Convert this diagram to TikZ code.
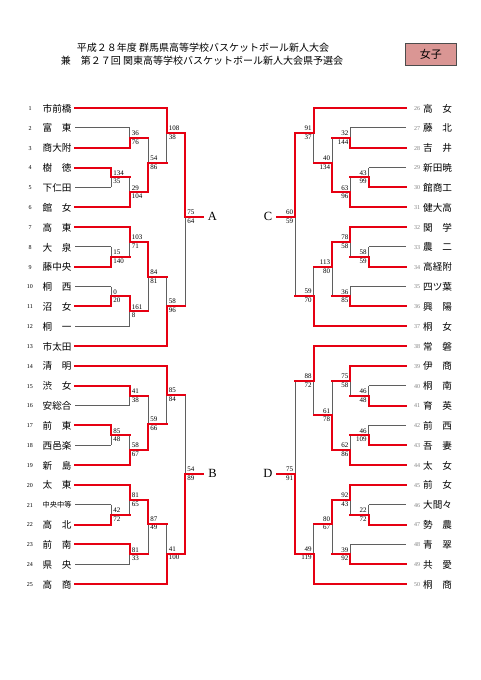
\documentclass[tikz,border=0pt]{standalone}
\usepackage{fontspec}
\setmainfont{Liberation Serif}
\newfontfamily\jp{Noto Sans CJK JP}
\pgfdeclarelayer{bg}
\pgfdeclarelayer{paper}
\pgfsetlayers{paper,bg,main}
\definecolor{bred}{RGB}{230,0,18}
\definecolor{bgray}{RGB}{95,95,95}
\definecolor{boxpink}{RGB}{218,150,148}
\tikzset{
  rl/.style={draw=bred,line width=2pt,line cap=rect},
  gl/.style={draw=bgray,line width=0.9pt},
  sc/.style={font=\fontsize{7}{7}\selectfont,inner xsep=0.3pt,inner ysep=0pt,text height=5pt,text depth=0pt},
  num/.style={font=\fontsize{6}{6}\selectfont,inner sep=0pt},
  nm/.style={font=\jp\fontsize{9.6}{10}\selectfont,inner sep=0pt,anchor=west},
  lab/.style={font=\fontsize{12.5}{12.5}\selectfont,inner sep=0pt},
  ttl/.style={font=\jp\fontsize{10}{11}\selectfont,inner sep=0pt}
}
\newcommand{\BrH}[3]{\draw[rl] (#1,#3) -- (#2,#3);}
\newcommand{\BgH}[3]{\begin{pgfonlayer}{bg}\draw[gl] (#1,#3) -- (#2,#3);\end{pgfonlayer}}
\newcommand{\BvT}[4]{\begin{pgfonlayer}{bg}\draw[gl] (#1,#4) -- (#1,#3);\end{pgfonlayer}\draw[rl] (#1,#2) -- (#1,#4);}
\newcommand{\BvB}[4]{\begin{pgfonlayer}{bg}\draw[gl] (#1,#2) -- (#1,#4);\end{pgfonlayer}\draw[rl] (#1,#4) -- (#1,#3);}
\newcommand{\ScL}[4]{\node[sc,anchor=south west] at (#1+1.8,#2-2) {#3};\node[sc,anchor=north west] at (#1+1.8,#2+1.2) {#4};}
\newcommand{\ScR}[4]{\node[sc,anchor=south east] at (#1-1.5,#2-2) {#3};\node[sc,anchor=north east] at (#1-1.5,#2+1.2) {#4};}
\newcommand{\Two}[2]{\makebox[3em]{#1\hfill#2}}
\newcommand{\TmL}[3]{\node[num] (n#1) at (30,#2+0.5) {#1};\node[nm] (t#1) at (42.5,#2+0.5) {#3};}
\newcommand{\TmR}[3]{\node[num,text=gray] (n#1) at (417,#2+0.5) {#1};\node[nm] (t#1) at (423,#2+0.5) {#3};}
\begin{document}
\begin{tikzpicture}[x=1pt,y=-1pt]
\begin{pgfonlayer}{paper}
\fill[white] (0,0) rectangle (481,680);
\end{pgfonlayer}
\useasboundingbox (0,0) rectangle (481,680);
% title
\node[ttl] (title1) at (203,47.3) {平成２８年度 群馬県高等学校バスケットボール新人大会};
\node[ttl] (title2) at (202,60.7) {兼　第２７回 関東高等学校バスケットボール新人大会県予選会};
\node[draw=black!70,line width=0.8pt,fill=boxpink,minimum width=51.5pt,minimum height=22pt,inner sep=0pt,font=\jp\fontsize{11}{11}\selectfont] (girls) at (430.75,54.5) {女子};
% teams left
\TmL{1}{108}{市前橋}
\TmL{2}{127.83}{\Two{富}{東}}
\TmL{3}{147.67}{商大附}
\TmL{4}{167.5}{\Two{樹}{徳}}
\TmL{5}{187.33}{下仁田}
\TmL{6}{207.17}{\Two{館}{女}}
\TmL{7}{227}{\Two{高}{東}}
\TmL{8}{246.83}{\Two{大}{泉}}
\TmL{9}{266.67}{藤中央}
\TmL{10}{286.5}{\Two{桐}{西}}
\TmL{11}{306.33}{\Two{沼}{女}}
\TmL{12}{326.17}{\Two{桐}{一}}
\TmL{13}{346}{市太田}
\TmL{14}{365.83}{\Two{清}{明}}
\TmL{15}{385.67}{\Two{渋}{女}}
\TmL{16}{405.5}{安総合}
\TmL{17}{425.33}{\Two{前}{東}}
\TmL{18}{445.17}{西邑楽}
\TmL{19}{465}{\Two{新}{島}}
\TmL{20}{484.83}{\Two{太}{東}}
\TmL{21}{504.67}{\makebox[3em]{\fontsize{7.2}{8}\selectfont 中央中等}}
\TmL{22}{524.5}{\Two{高}{北}}
\TmL{23}{544.33}{\Two{前}{南}}
\TmL{24}{564.17}{\Two{県}{央}}
\TmL{25}{584}{\Two{高}{商}}
% teams right
\TmR{26}{108}{\Two{高}{女}}
\TmR{27}{127.83}{\Two{藤}{北}}
\TmR{28}{147.67}{\Two{吉}{井}}
\TmR{29}{167.5}{新田暁}
\TmR{30}{187.33}{館商工}
\TmR{31}{207.17}{健大高}
\TmR{32}{227}{\Two{関}{学}}
\TmR{33}{246.83}{\Two{農}{二}}
\TmR{34}{266.67}{高経附}
\TmR{35}{286.5}{四ツ葉}
\TmR{36}{306.33}{\Two{興}{陽}}
\TmR{37}{326.17}{\Two{桐}{女}}
\TmR{38}{346}{\Two{常}{磐}}
\TmR{39}{365.83}{\Two{伊}{商}}
\TmR{40}{385.67}{\Two{桐}{南}}
\TmR{41}{405.5}{\Two{育}{英}}
\TmR{42}{425.33}{\Two{前}{西}}
\TmR{43}{445.17}{\Two{吾}{妻}}
\TmR{44}{465}{\Two{太}{女}}
\TmR{45}{484.83}{\Two{前}{女}}
\TmR{46}{504.67}{大間々}
\TmR{47}{524.5}{\Two{勢}{農}}
\TmR{48}{544.33}{\Two{青}{翠}}
\TmR{49}{564.17}{\Two{共}{愛}}
\TmR{50}{584}{\Two{桐}{商}}
% ---------- A block
\BrH{75}{111}{167.5}
\BgH{75}{111}{187.33}
\BvT{111}{167.5}{187.33}{177.42}\ScL{111}{177.42}{134}{35}
\BgH{75}{129.5}{127.83}
\BrH{75}{129.5}{147.67}
\BvB{129.5}{127.83}{147.67}{137.75}\ScL{129.5}{137.75}{36}{76}
\BrH{111}{129.5}{177.42}
\BrH{75}{129.5}{207.17}
\BvB{129.5}{177.42}{207.17}{192.3}\ScL{129.5}{192.3}{29}{104}
\BrH{129.5}{148}{137.75}
\BrH{129.5}{148}{192.3}
\BvB{148}{137.75}{192.3}{163}\ScL{148}{163}{54}{86}
\BrH{75}{166.5}{108}
\BrH{148}{166.5}{163}
\BvT{166.5}{108}{163}{133}\ScL{166.5}{133}{108}{38}
\BgH{75}{111}{246.83}
\BrH{75}{111}{266.67}
\BvB{111}{246.83}{266.67}{256.75}\ScL{111}{256.75}{15}{140}
\BrH{75}{129.5}{227}
\BrH{111}{129.5}{256.75}
\BvT{129.5}{227}{256.75}{241.9}\ScL{129.5}{241.9}{103}{71}
\BgH{75}{111}{286.5}
\BrH{75}{111}{306.33}
\BvB{111}{286.5}{306.33}{296.4}\ScL{111}{296.4}{0}{20}
\BrH{111}{129.5}{296.4}
\BgH{75}{129.5}{326.17}
\BvT{129.5}{296.4}{326.17}{311.3}\ScL{129.5}{311.3}{161}{8}
\BrH{129.5}{148}{241.9}
\BrH{129.5}{148}{311.3}
\BvT{148}{241.9}{311.3}{276.6}\ScL{148}{276.6}{84}{81}
\BrH{148}{166.5}{276.6}
\BrH{75}{166.5}{346}
\BvB{166.5}{276.6}{346}{306}\ScL{166.5}{306}{58}{96}
\BrH{166.5}{185}{133}
\BrH{166.5}{185}{306}
\BvT{185}{133}{306}{217}\ScL{185}{217}{75}{64}
\coordinate (aend) at (203,217);
\draw[rl] (185,217) -- (aend);
\node[lab] (labA) at (212.5,216.5) {A};
% ---------- B block
\BrH{75}{129.5}{385.67}
\BgH{75}{129.5}{405.5}
\BvT{129.5}{385.67}{405.5}{395.6}\ScL{129.5}{395.6}{41}{38}
\BrH{75}{111}{425.33}
\BgH{75}{111}{445.17}
\BvT{111}{425.33}{445.17}{435.25}\ScL{111}{435.25}{85}{48}
\BrH{111}{129.5}{435.25}
\BrH{75}{129.5}{465}
\BvB{129.5}{435.25}{465}{450.1}\ScL{129.5}{450.1}{58}{67}
\BrH{129.5}{148}{395.6}
\BrH{129.5}{148}{450.1}
\BvB{148}{395.6}{450.1}{424}\ScL{148}{424}{59}{66}
\BrH{75}{166.5}{365.83}
\BrH{148}{166.5}{424}
\BvT{166.5}{365.83}{424}{395}\ScL{166.5}{395}{85}{84}
\BgH{75}{111}{504.67}
\BrH{75}{111}{524.5}
\BvB{111}{504.67}{524.5}{514.6}\ScL{111}{514.6}{42}{72}
\BrH{75}{129.5}{484.83}
\BrH{111}{129.5}{514.6}
\BvT{129.5}{484.83}{514.6}{499.7}\ScL{129.5}{499.7}{81}{65}
\BrH{75}{129.5}{544.33}
\BgH{75}{129.5}{564.17}
\BvT{129.5}{544.33}{564.17}{554.25}\ScL{129.5}{554.25}{81}{33}
\BrH{129.5}{148}{499.7}
\BrH{129.5}{148}{554.25}
\BvT{148}{499.7}{554.25}{523.5}\ScL{148}{523.5}{87}{49}
\BrH{148}{166.5}{523.5}
\BrH{75}{166.5}{584}
\BvB{166.5}{523.5}{584}{553.5}\ScL{166.5}{553.5}{41}{100}
\BrH{166.5}{185}{395}
\BrH{166.5}{185}{553.5}
\BvB{185}{395}{553.5}{474}\ScL{185}{474}{54}{89}
\coordinate (bend) at (203,474);
\draw[rl] (185,474) -- (bend);
\node[lab] (labB) at (212.5,473.5) {B};
% ---------- C block
\BgH{405.5}{350.3}{127.83}
\BrH{405.5}{350.3}{147.67}
\BvB{350.3}{127.83}{147.67}{137.75}\ScR{350.3}{137.75}{32}{144}
\BgH{405.5}{368.5}{167.5}
\BrH{405.5}{368.5}{187.33}
\BvB{368.5}{167.5}{187.33}{177.42}\ScR{368.5}{177.42}{43}{99}
\BrH{368.5}{350.3}{177.42}
\BrH{405.5}{350.3}{207.17}
\BvB{350.3}{177.42}{207.17}{192.3}\ScR{350.3}{192.3}{63}{96}
\BrH{350.3}{332}{137.75}
\BrH{350.3}{332}{192.3}
\BvB{332}{137.75}{192.3}{163}\ScR{332}{163}{40}{134}
\BrH{405.5}{313.5}{108}
\BrH{332}{313.5}{163}
\BvT{313.5}{108}{163}{133}\ScR{313.5}{133}{91}{37}
\BgH{405.5}{368.5}{246.83}
\BrH{405.5}{368.5}{266.67}
\BvB{368.5}{246.83}{266.67}{256.75}\ScR{368.5}{256.75}{58}{59}
\BrH{405.5}{350.3}{227}
\BrH{368.5}{350.3}{256.75}
\BvT{350.3}{227}{256.75}{241.9}\ScR{350.3}{241.9}{78}{58}
\BgH{405.5}{350.3}{286.5}
\BrH{405.5}{350.3}{306.33}
\BvB{350.3}{286.5}{306.33}{296.4}\ScR{350.3}{296.4}{36}{85}
\BrH{350.3}{332}{241.9}
\BrH{350.3}{332}{296.4}
\BvT{332}{241.9}{296.4}{266.7}\ScR{332}{266.7}{113}{80}
\BrH{332}{313.5}{266.7}
\BrH{405.5}{313.5}{326.17}
\BvB{313.5}{266.7}{326.17}{296}\ScR{313.5}{296}{59}{70}
\BrH{313.5}{295}{133}
\BrH{313.5}{295}{296}
\BvT{295}{133}{296}{217}\ScR{295}{217}{60}{59}
\coordinate (cend) at (277,217);
\draw[rl] (295,217) -- (cend);
\node[lab] (labC) at (268,216.5) {C};
% ---------- D block
\BgH{405.5}{368.5}{385.67}
\BrH{405.5}{368.5}{405.5}
\BvB{368.5}{385.67}{405.5}{395.6}\ScR{368.5}{395.6}{46}{48}
\BrH{405.5}{350.3}{365.83}
\BrH{368.5}{350.3}{395.6}
\BvT{350.3}{365.83}{395.6}{380.7}\ScR{350.3}{380.7}{75}{58}
\BgH{405.5}{368.5}{425.33}
\BrH{405.5}{368.5}{445.17}
\BvB{368.5}{425.33}{445.17}{435.25}\ScR{368.5}{435.25}{46}{109}
\BrH{368.5}{350.3}{435.25}
\BrH{405.5}{350.3}{465}
\BvB{350.3}{435.25}{465}{450.1}\ScR{350.3}{450.1}{62}{86}
\BrH{350.3}{332}{380.7}
\BrH{350.3}{332}{450.1}
\BvB{332}{380.7}{450.1}{415.4}\ScR{332}{415.4}{61}{78}
\BrH{405.5}{313.5}{346}
\BrH{332}{313.5}{415.4}
\BvT{313.5}{346}{415.4}{380.7}\ScR{313.5}{380.7}{88}{72}
\BgH{405.5}{368.5}{504.67}
\BrH{405.5}{368.5}{524.5}
\BvB{368.5}{504.67}{524.5}{514.6}\ScR{368.5}{514.6}{22}{72}
\BrH{405.5}{350.3}{484.83}
\BrH{368.5}{350.3}{514.6}
\BvT{350.3}{484.83}{514.6}{499.7}\ScR{350.3}{499.7}{92}{43}
\BgH{405.5}{350.3}{544.33}
\BrH{405.5}{350.3}{564.17}
\BvB{350.3}{544.33}{564.17}{554.25}\ScR{350.3}{554.25}{39}{92}
\BrH{350.3}{332}{499.7}
\BrH{350.3}{332}{554.25}
\BvT{332}{499.7}{554.25}{523.5}\ScR{332}{523.5}{80}{67}
\BrH{332}{313.5}{523.5}
\BrH{405.5}{313.5}{584}
\BvB{313.5}{523.5}{584}{553.5}\ScR{313.5}{553.5}{49}{119}
\BrH{313.5}{295}{380.7}
\BrH{313.5}{295}{553.5}
\BvB{295}{380.7}{553.5}{474}\ScR{295}{474}{75}{91}
\coordinate (dend) at (277,474);
\draw[rl] (295,474) -- (dend);
\node[lab] (labD) at (268,473.5) {D};
\end{tikzpicture}
\end{document}
